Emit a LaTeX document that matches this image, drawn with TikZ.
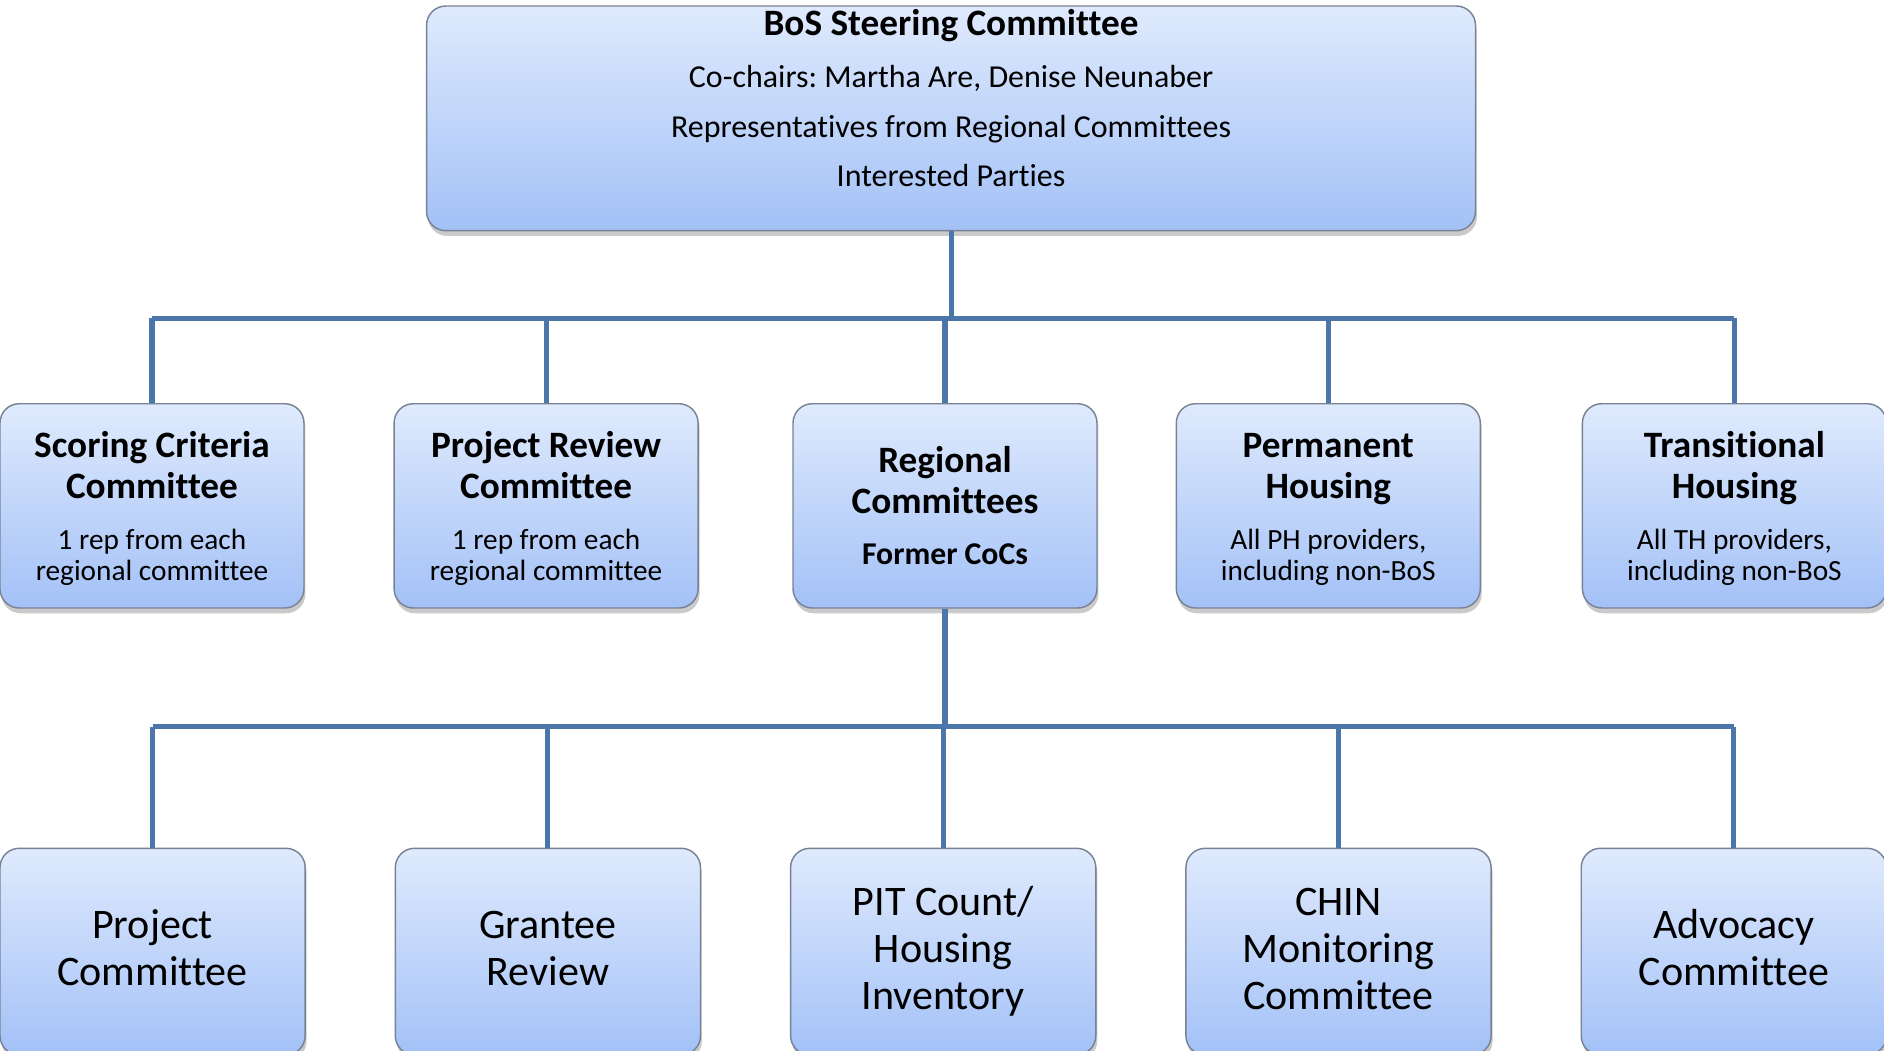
\documentclass[tikz,border=0pt]{standalone}
\usepackage{fontspec}
\setmainfont{Carlito}[Ligatures={NoCommon}]
\frenchspacing
\usetikzlibrary{shadows}
\definecolor{conn}{RGB}{74,118,170}
\definecolor{topc}{RGB}{223,234,253}
\definecolor{botc}{RGB}{163,193,247}
\definecolor{edgec}{RGB}{120,130,148}
\begin{document}
\begin{tikzpicture}[x=0.5pt,y=-0.5pt,
  orgbox/.style={rectangle, rounded corners=8pt, draw=edgec, line width=0.6pt,
    top color=topc, bottom color=botc, inner sep=0pt,
    drop shadow={shadow xshift=0.6pt, shadow yshift=-2.2pt, opacity=0.35, fill=black!60}},
  boxtop/.style={orgbox, minimum width=436.5pt, minimum height=93.5pt},
  boxmid/.style={orgbox, minimum width=126.5pt, minimum height=85pt},
  boxlow/.style={orgbox, minimum width=127pt, minimum height=86pt},
  txtlow/.style={inner sep=0pt, align=center, font=\fontsize{17.5}{19.5}\selectfont},
  ttltop/.style={inner sep=0pt, font=\bfseries\fontsize{15.5}{17}\selectfont},
  txttop/.style={inner sep=0pt, align=center, font=\fontsize{13.3}{20.5}\selectfont},
  ttlmid/.style={inner sep=0pt, align=center, font=\bfseries\fontsize{15.5}{17}\selectfont},
  submid/.style={inner sep=0pt, align=center, font=\fontsize{12.2}{13}\selectfont},
  subreg/.style={inner sep=0pt, align=center, font=\bfseries\fontsize{13.2}{15}\selectfont},
  link/.style={draw=conn, line width=2.1pt}
]
\useasboundingbox (0,0) rectangle (1568,874);

% top box
\node[boxtop] (top) at (791.5,98.5) {};
\node[ttltop] (toptitle) at (791.5,23) {\strut BoS Steering Committee};
\node[txttop] (toptext) at (791.5,106) {\strut Co-chairs: Martha Are, Denise Neunaber\\Representatives from Regional Committees\\Interested Parties\strut};

% middle row
\node[boxmid] (m1) at (126.5,421) {};
\node[ttlmid] (m1t) at (126.5,391) {\strut Scoring Criteria\\Committee\strut};
\node[submid] (m1s) at (126.5,465) {\strut 1 rep from each\\regional committee\strut};

\node[boxmid] (m2) at (454.5,421) {};
\node[ttlmid] (m2t) at (454.5,391) {\strut Project Review\\Committee\strut};
\node[submid] (m2s) at (454.5,465) {\strut 1 rep from each\\regional committee\strut};

\node[boxmid] (m3) at (786.5,421) {};
\node[ttlmid] (m3t) at (786.5,403.5) {\strut Regional\\Committees\strut};
\node[subreg] (m3s) at (786.5,464) {\strut Former CoCs};

\node[boxmid] (m4) at (1105.5,421) {};
\node[ttlmid] (m4t) at (1105.5,391) {\strut Permanent\\Housing\strut};
\node[submid] (m4s) at (1105.5,465) {\strut All PH providers,\\including non-BoS\strut};

\node[boxmid] (m5) at (1443.5,421) {};
\node[ttlmid] (m5t) at (1443.5,391) {\strut Transitional\\Housing\strut};
\node[submid] (m5s) at (1443.5,465) {\strut All TH providers,\\including non-BoS\strut};

% bottom row
\node[boxlow] (l1) at (127,792) {};
\node[txtlow] (l1t) at (127,793) {\strut Project\\Committee\strut};
\node[boxlow] (l2) at (456,792) {};
\node[txtlow] (l2t) at (456,793) {\strut Grantee\\Review\strut};
\node[boxlow] (l3) at (785,792) {};
\node[txtlow] (l3t) at (785,793) {\strut PIT Count/\\Housing\\Inventory\strut};
\node[boxlow] (l4) at (1114,792) {};
\node[txtlow] (l4t) at (1114,793) {\strut CHIN\\Monitoring\\Committee\strut};
\node[boxlow] (l5) at (1443,792) {};
\node[txtlow] (l5t) at (1443,793) {\strut Advocacy\\Committee\strut};

% connectors top -> middle
\coordinate (h1) at (791.5,265);
\draw[link] (top.south) -- (h1);
\draw[link] (m1.north |- h1) -- (m5.north |- h1);
\foreach \n in {m1,m2,m3,m4,m5} \draw[link] (\n.north |- h1) -- (\n.north);

% connectors regional -> bottom
\coordinate (h2) at (786.5,605);
\draw[link] (m3.south) -- (h2);
\draw[link] (l1.north |- h2) -- (l5.north |- h2);
\foreach \n in {l1,l2,l3,l4,l5} \draw[link] (\n.north |- h2) -- (\n.north);
\end{tikzpicture}
\end{document}
